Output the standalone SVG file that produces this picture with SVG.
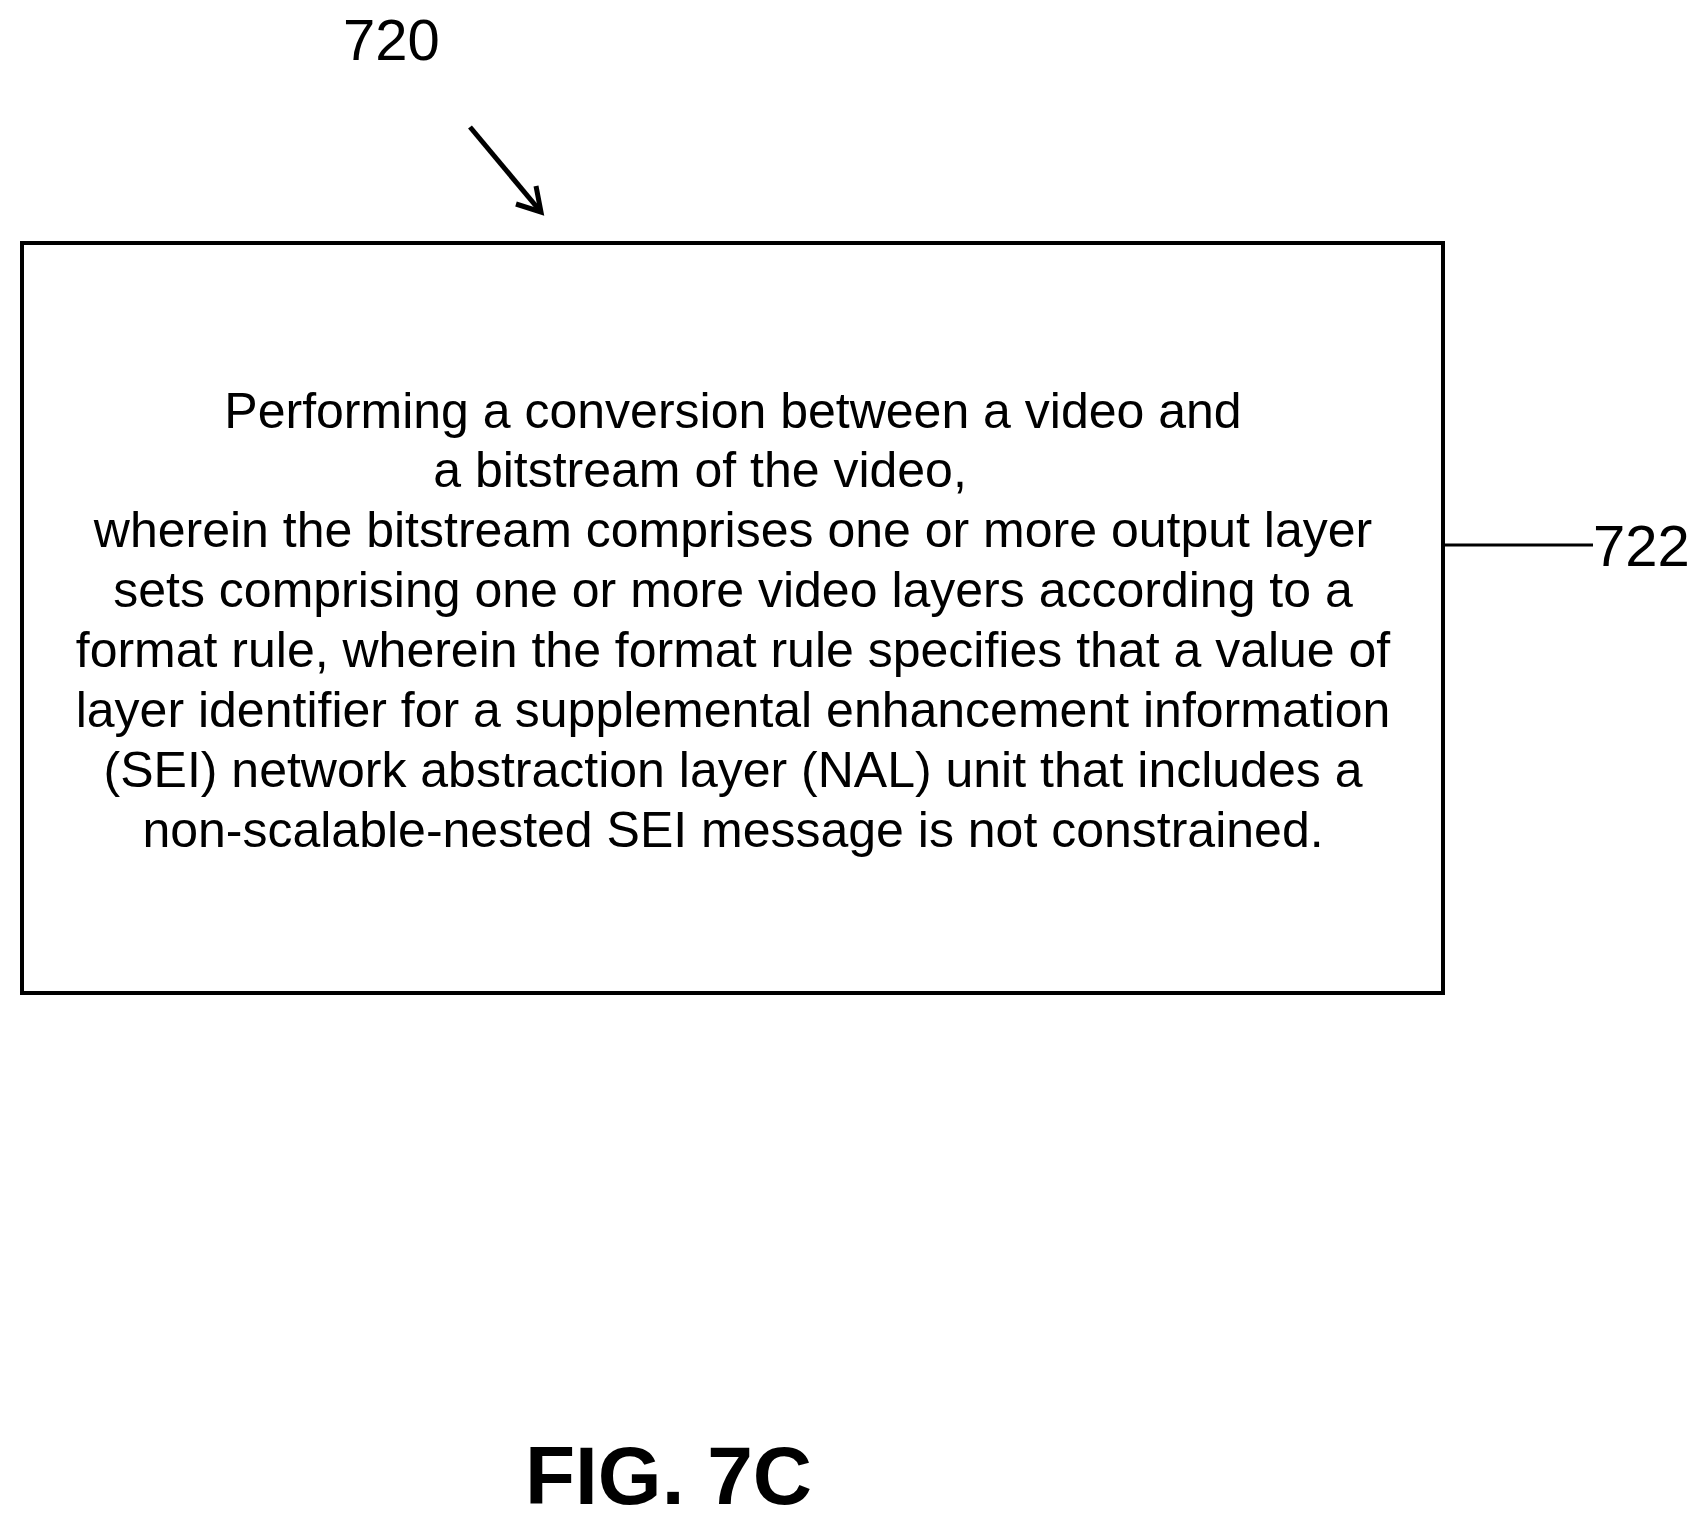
<svg xmlns="http://www.w3.org/2000/svg" width="1705" height="1525" viewBox="0 0 1705 1525">
<style>
text{font-family:"Liberation Sans",Arial,sans-serif;fill:#000}
.b{font-size:50px;text-anchor:middle}
.l{font-size:58px}
</style>
<rect width="1705" height="1525" fill="#fff"/>
<g id="connectors" stroke="#000" stroke-width="5" fill="none">
<path d="M470,127 L541,212"/>
<path d="M516,204 L541,212 L536,186"/>
<path d="M1443,545 L1593,545" stroke-width="3"/>
</g>
<g id="n722">
<rect x="22" y="243" width="1421" height="750" fill="none" stroke="#000" stroke-width="4"/>
<text class="b" x="733" y="428">Performing a conversion between a video and</text>
<text class="b" x="700" y="487">a bitstream of the video,</text>
<text class="b" x="733" y="547">wherein the bitstream comprises one or more output layer</text>
<text class="b" x="733" y="607">sets comprising one or more video layers according to a</text>
<text class="b" x="733" y="667">format rule, wherein the format rule specifies that a value of</text>
<text class="b" x="733" y="727">layer identifier for a supplemental enhancement information</text>
<text class="b" x="733" y="787">(SEI) network abstraction layer (NAL) unit that includes a</text>
<text class="b" x="733" y="847">non-scalable-nested SEI message is not constrained.</text>
</g>
<g id="labels">
<text class="l" x="343" y="60">720</text>
<text class="l" x="1593" y="566">722</text>
<text x="525" y="1504" style="font-size:82px;font-weight:bold">FIG. 7C</text>
</g>
</svg>
